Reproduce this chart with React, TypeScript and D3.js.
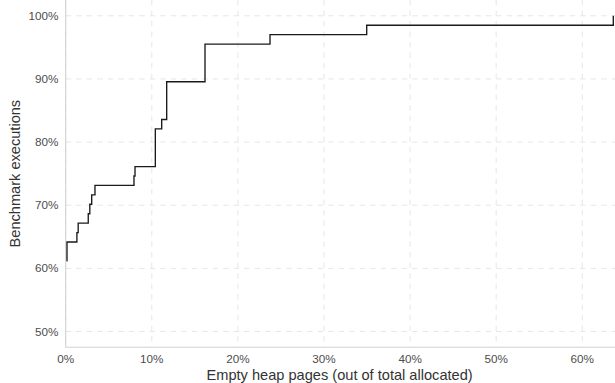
import React from "react";
import * as d3 from "d3";

// ECDF breakpoints: empty heap pages (% of total allocated) and cumulative executions
const emptyPagesPct = [0.1, 0.15, 1.3, 1.45, 2.62, 2.8, 3.02, 3.4, 7.93, 8.05, 10.41, 11.15, 11.73, 16.18, 23.73, 34.96, 63.6];
const cumulativeExecutions = [41, 43, 44, 45, 46, 47, 48, 49, 50, 51, 55, 56, 60, 64, 65, 66, 67];
const totalExecutions = 67;
const xTicks = [0, 10, 20, 30, 40, 50, 60];
const yTicks = [50, 60, 70, 80, 90, 100];
const xTitle = "Empty heap pages (out of total allocated)";
const yTitle = "Benchmark executions";

const W = 615;
const H = 383;
const left = 65.7;
const right = 614.5;
const top = 0;
const bottom = 347.3;

export default function App() {
  const x = d3.scaleLinear().domain([0, (right - left) / 8.61]).range([left, right]);
  const y = d3.scaleLinear().domain([47.5, 102.5]).range([bottom, top]);
  const pts: [number, number][] = emptyPagesPct.map((v, i) => [v, (cumulativeExecutions[i] / totalExecutions) * 100]);
  const line = d3
    .line<[number, number]>()
    .x((d) => x(d[0]))
    .y((d) => y(d[1]))
    .curve(d3.curveStepAfter);
  const font = "'Liberation Sans', Arial, Helvetica, sans-serif";
  return (
    <svg width={W} height={H} style={{ position: "absolute", left: 0, top: 0, background: "#fff" }} fontFamily={font}>
      <defs>
        <clipPath id="panel">
          <rect x={left} y={top} width={right - left + 1} height={bottom - top} />
        </clipPath>
      </defs>
      {xTicks.map((t) => (
        <line key={"gx" + t} x1={x(t)} x2={x(t)} y1={top} y2={bottom} stroke="#e6e6e6" strokeWidth={1} strokeDasharray="5.5,5" />
      ))}
      {yTicks.map((t) => (
        <line key={"gy" + t} x1={left} x2={W} y1={y(t)} y2={y(t)} stroke="#e6e6e6" strokeWidth={1} strokeDasharray="5.5,5" />
      ))}
      <line x1={left} x2={left} y1={top} y2={bottom} stroke="#d2d2d2" strokeWidth={1.1} />
      <line x1={left} x2={W} y1={bottom} y2={bottom} stroke="#d2d2d2" strokeWidth={1.1} />
      <path d={line(pts) || ""} fill="none" stroke="#1a1a1a" strokeWidth={1.35} clipPath="url(#panel)" />
      {xTicks.map((t) => (
        <text key={"tx" + t} x={x(t)} y={363} textAnchor="middle" fontSize={11.7} fill="#4d4d4d">
          {t + "%"}
        </text>
      ))}
      {yTicks.map((t) => (
        <text key={"ty" + t} x={58.3} y={y(t)} dy="0.35em" textAnchor="end" fontSize={11.7} fill="#4d4d4d">
          {t + "%"}
        </text>
      ))}
      <text x={(left + right) / 2 - 0.5} y={379.5} textAnchor="middle" fontSize={14.6} fill="#333">
        {xTitle}
      </text>
      <text transform={`translate(19.5,${(top + bottom) / 2}) rotate(-90)`} textAnchor="middle" fontSize={14.6} fill="#333">
        {yTitle}
      </text>
    </svg>
  );
}
